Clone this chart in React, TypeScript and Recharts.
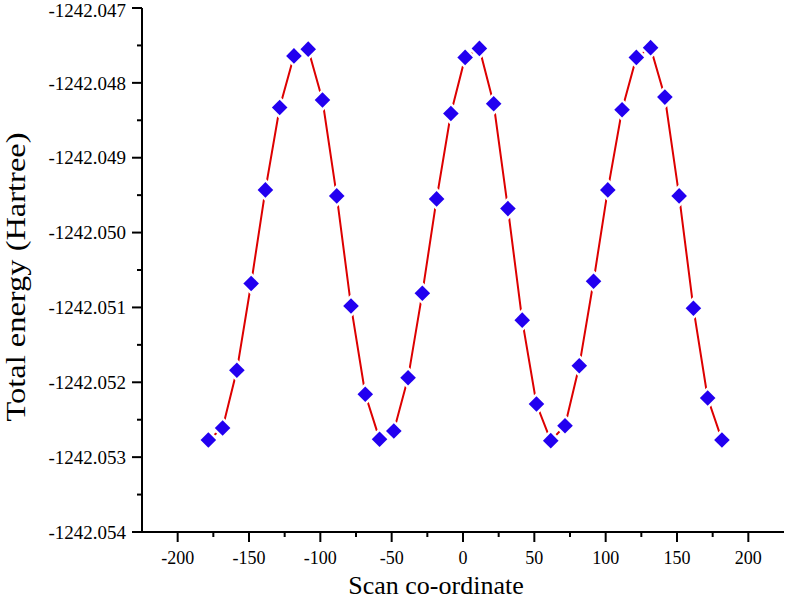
import React from "react";
import { LineChart, Line, XAxis, YAxis } from "recharts";

// scan coordinate (deg) and total energy (Hartree)
const scanCoord = [
  -178.5, -168.5, -158.5, -148.5, -138.5, -128.5, -118.5, -108.5, -98.5, -88.5,
  -78.5, -68.5, -58.5, -48.5, -38.5, -28.5, -18.5, -8.5, 1.5, 11.5, 21.5, 31.5,
  41.5, 51.5, 61.5, 71.5, 81.5, 91.5, 101.5, 111.5, 121.5, 131.5, 141.5, 151.5,
  161.5, 171.5, 181.5,
];
const totalEnergy = [
  -1242.05277, -1242.05261, -1242.05184, -1242.05068, -1242.04943, -1242.04833,
  -1242.04764, -1242.04755, -1242.04823, -1242.04951, -1242.05098, -1242.05216,
  -1242.05276, -1242.05265, -1242.05194, -1242.05081, -1242.04955, -1242.04841,
  -1242.04766, -1242.04754, -1242.04828, -1242.04968, -1242.05117, -1242.05229,
  -1242.05278, -1242.05258, -1242.05178, -1242.05065, -1242.04943, -1242.04836,
  -1242.04766, -1242.04753, -1242.04819, -1242.04951, -1242.05101, -1242.05221,
  -1242.05277,
];

const xMajor = [-200, -150, -100, -50, 0, 50, 100, 150, 200];
const xMinor = [-175, -125, -75, -25, 25, 75, 125, 175];
const yMajor = [
  -1242.054, -1242.053, -1242.052, -1242.051, -1242.05, -1242.049, -1242.048, -1242.047,
];
const yMinor = [-1242.0535, -1242.0525, -1242.0515, -1242.0505, -1242.0495, -1242.0485, -1242.0475];

const data = scanCoord.map((x, i) => ({ x, e: totalEnergy[i] }));

const FONT = "'Liberation Serif', 'Times New Roman', serif";

function XTick(props: any) {
  const { x, y, payload } = props;
  const major = xMajor.includes(payload.value);
  return (
    <g>
      <line x1={x} x2={x} y1={y} y2={y + (major ? 10 : 5)} stroke="#000" strokeWidth={2} />
      {major && (
        <text x={x} y={y + 19} dy="0.71em" textAnchor="middle" fontFamily={FONT} fontSize={18} fill="#000">
          {payload.value}
        </text>
      )}
    </g>
  );
}

function YTick(props: any) {
  const { x, y, payload } = props;
  const major = yMajor.includes(payload.value);
  // keep the top label inside the picture
  const base = Math.max(y + 6.7, 17);
  return (
    <g>
      <line x1={x} x2={x - (major ? 10 : 5)} y1={y} y2={y} stroke="#000" strokeWidth={2} />
      {major && (
        <text x={x - 16} y={base} textAnchor="end" fontFamily={FONT} fontSize={19} fill="#000">
          {payload.value.toFixed(3)}
        </text>
      )}
    </g>
  );
}

function Diamond(props: any) {
  const { cx, cy } = props;
  if (cx == null || cy == null) return null;
  const r = 7.8;
  const pts = `${cx},${cy - r} ${cx + r},${cy} ${cx},${cy + r} ${cx - r},${cy}`;
  return (
    <g>
      <polygon points={pts} fill="#fff" stroke="#fff" strokeWidth={5} strokeLinejoin="miter" />
      <polygon points={pts} fill="#2200f0" />
    </g>
  );
}

export default function App() {
  return (
    <div style={{ position: "absolute", left: 0, top: 0, width: 787, height: 601, background: "#fff" }}>
      <LineChart width={787} height={601} data={data} margin={{ top: 8, right: 3, bottom: 0, left: 0 }}>
        <XAxis
          dataKey="x"
          type="number"
          domain={[-225, 225]}
          ticks={[...xMajor, ...xMinor]}
          interval={0}
          height={69}
          tickSize={0}
          tickMargin={0}
          tickLine={false}
          axisLine={{ stroke: "#000", strokeWidth: 2 }}
          tick={<XTick />}
          label={{
            content: (p: any) => {
              const vb = p.viewBox;
              return (
                <text x={436} y={vb.y + 62} textAnchor="middle" fontFamily={FONT} fontSize={26} fill="#000">
                  Scan co-ordinate
                </text>
              );
            },
          }}
        />
        <YAxis
          dataKey="e"
          type="number"
          domain={[-1242.054, -1242.047]}
          ticks={[...yMajor, ...yMinor]}
          interval={0}
          width={142}
          tickSize={0}
          tickMargin={0}
          tickLine={false}
          axisLine={{ stroke: "#000", strokeWidth: 2 }}
          tick={<YTick />}
          allowDataOverflow
          label={{
            content: (p: any) => {
              const vb = p.viewBox;
              const cy = vb.y + vb.height / 2 + 7;
              return (
                <text
                  x={25}
                  y={cy}
                  transform={`rotate(-90 25 ${cy})`}
                  textAnchor="middle"
                  fontFamily={FONT}
                  fontSize={27}
                  textLength={289}
                  lengthAdjust="spacingAndGlyphs"
                  fill="#000"
                >
                  Total energy (Hartree)
                </text>
              );
            },
          }}
        />
        <Line
          type="linear"
          dataKey="e"
          stroke="#dd0000"
          strokeWidth={2}
          dot={<Diamond />}
          activeDot={false}
          isAnimationActive={false}
        />
      </LineChart>
    </div>
  );
}
